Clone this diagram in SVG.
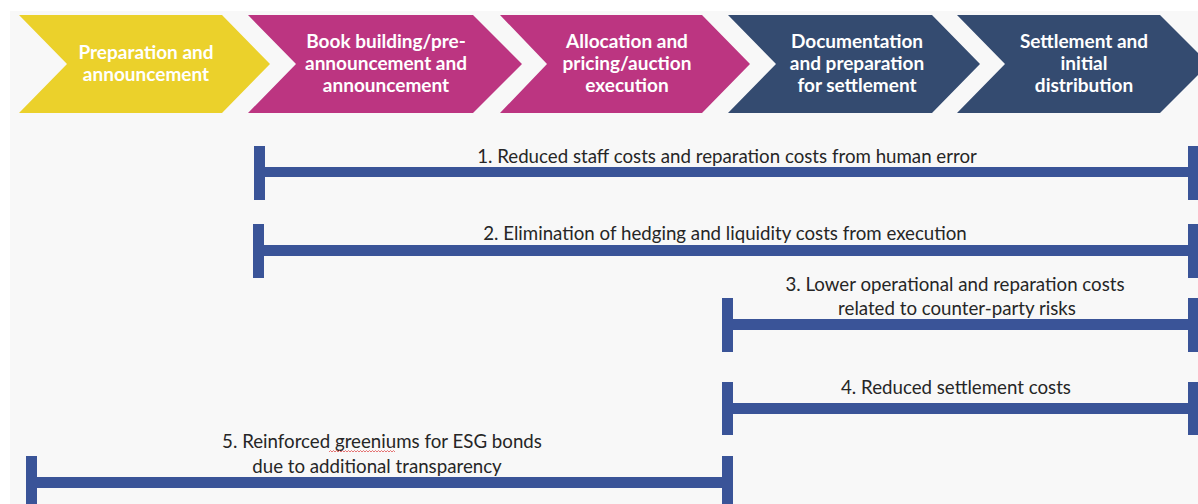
<svg xmlns="http://www.w3.org/2000/svg" width="1198" height="504" viewBox="0 0 1198 504">
<style>
.bg{fill:#f8f8f8}
.y{fill:#ebd12b}
.m{fill:#bc3581}
.n{fill:#344b70}
.h{font-family:Lato,"Open Sans",sans-serif;font-weight:bold;font-size:19px;fill:#ffffff;text-anchor:middle}
.t{font-family:Lato,"Open Sans",sans-serif;font-size:18.7px;fill:#262626;text-anchor:middle}
.bar{fill:#3a5498}
</style>
<rect width="1198" height="504" fill="#ffffff"/>
<rect class="bg" x="10" y="11" width="1188" height="493"/>
<g id="step1"><polygon class="y" points="19,15 222,15 270,64 222,113 19,113 67,64"/>
<text class="h" x="146" y="59">Preparation and</text><text class="h" x="146" y="81">announcement</text></g>
<g id="step2"><polygon class="m" points="248,15 473,15 522,64 473,113 248,113 296,64"/>
<text class="h" x="386" y="48">Book building/pre-</text><text class="h" x="386" y="70">announcement and</text><text class="h" x="386" y="92">announcement</text></g>
<g id="step3"><polygon class="m" points="500,15 702,15 750,64 702,113 500,113 547,64"/>
<text class="h" x="627" y="48">Allocation and</text><text class="h" x="627" y="70">pricing/auction</text><text class="h" x="627" y="92">execution</text></g>
<g id="step4"><polygon class="n" points="728,15 932,15 980,64 932,113 728,113 776,64"/>
<text class="h" x="857" y="48">Documentation</text><text class="h" x="857" y="70">and preparation</text><text class="h" x="857" y="92">for settlement</text></g>
<g id="step5"><polygon class="n" points="957,15 1160,15 1209,64 1160,113 957,113 1005,64"/>
<text class="h" x="1084" y="48">Settlement and</text><text class="h" x="1084" y="70">initial</text><text class="h" x="1084" y="92">distribution</text></g>
<g id="connectors">
<g id="bar1"><rect class="bar" x="254" y="146" width="11" height="54"/><rect class="bar" x="1188" y="146" width="11" height="54"/><rect class="bar" x="254" y="167" width="944" height="10"/></g>
<g id="bar2"><rect class="bar" x="253" y="224" width="11" height="54"/><rect class="bar" x="1188" y="224" width="11" height="54"/><rect class="bar" x="253" y="245" width="945" height="11"/></g>
<g id="bar3"><rect class="bar" x="722" y="298" width="11" height="54"/><rect class="bar" x="1188" y="298" width="11" height="54"/><rect class="bar" x="722" y="319" width="476" height="11"/></g>
<g id="bar4"><rect class="bar" x="722" y="382" width="11" height="53"/><rect class="bar" x="1188" y="382" width="11" height="53"/><rect class="bar" x="722" y="403" width="476" height="11"/></g>
<g id="bar5"><rect class="bar" x="26" y="456" width="11" height="54"/><rect class="bar" x="722" y="456" width="11" height="54"/><rect class="bar" x="26" y="477" width="707" height="11"/></g>
</g>
<g id="labels">
<text class="t" x="727" y="163">1. Reduced staff costs and reparation costs from human error</text>
<text class="t" x="725" y="240">2. Elimination of hedging and liquidity costs from execution</text>
<text class="t" x="955" y="291">3. Lower operational and reparation costs</text>
<text class="t" x="957" y="315">related to counter-party risks</text>
<text class="t" x="956" y="394">4. Reduced settlement costs</text>
<text class="t" x="382" y="448">5. Reinforced greeniums for ESG bonds</text>
<text class="t" x="377" y="473">due to additional transparency</text>
<path d="M329,452 l1.5,-1.5 l1.5,1.5 l1.5,-1.5 l1.5,1.5 l1.5,-1.5 l1.5,1.5 l1.5,-1.5 l1.5,1.5 l1.5,-1.5 l1.5,1.5 l1.5,-1.5 l1.5,1.5 l1.5,-1.5 l1.5,1.5 l1.5,-1.5 l1.5,1.5 l1.5,-1.5 l1.5,1.5 l1.5,-1.5 l1.5,1.5 l1.5,-1.5 l1.5,1.5 l1.5,-1.5 l1.5,1.5 l1.5,-1.5 l1.5,1.5 l1.5,-1.5 l1.5,1.5 l1.5,-1.5 l1.5,1.5 l1.5,-1.5 l1.5,1.5 l1.5,-1.5 l1.5,1.5 l1.5,-1.5 l1.5,1.5 l1.5,-1.5 l1.5,1.5 l1.5,-1.5 l1.5,1.5 l1.5,-1.5 l1.5,1.5 l1.5,-1.5 l1.5,1.5" fill="none" stroke="#e05050" stroke-width="0.8"/>
</g>
</svg>
